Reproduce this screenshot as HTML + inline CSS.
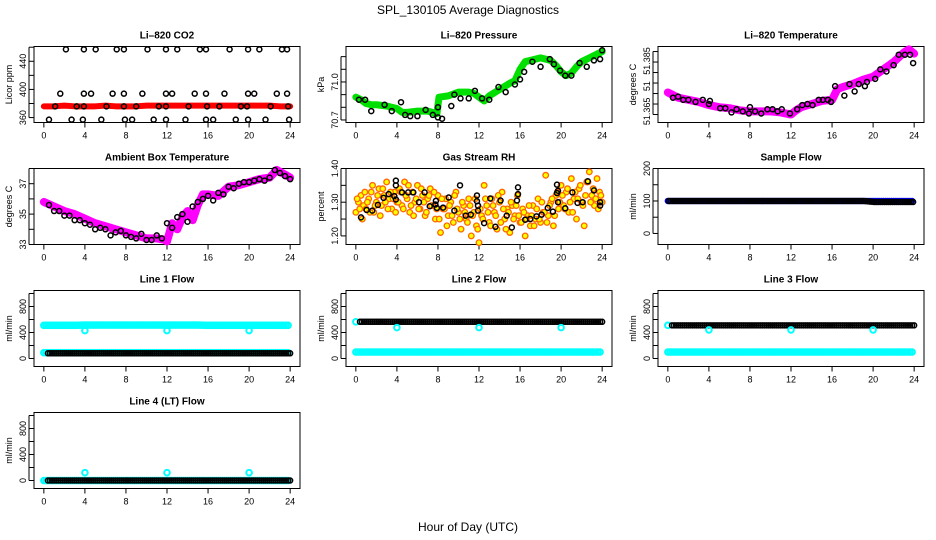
<!DOCTYPE html>
<html><head><meta charset="utf-8"><style>
body{margin:0;background:#fff;}
svg{display:block;font-family:"Liberation Sans",sans-serif;}
</style></head><body>
<svg id="fig" width="936" height="540" viewBox="0 0 936 540" xmlns="http://www.w3.org/2000/svg">
<rect width="936" height="540" fill="#fff"/>
<text x="468" y="14" font-size="12" text-anchor="middle">SPL_130105  Average Diagnostics</text>
<text x="468" y="531" font-size="12" text-anchor="middle">Hour of Day (UTC)</text>
</svg>
<script>
// ---- data ----
const co2RedHrs=[0,1,2,3,4,5,6,7,8,9,10,11,12,13,14,15,16,17,18,19,20,21,22,23,24];
const co2RedVals=[376,376,377,376,376,376,377,376,376,376,377,377,377,377,377,377,377,377,377,377,377,377,377,376,376];
const co2Hrs=[2.15,3.9,5.05,7.1,7.8,10.1,11.9,13.0,15.2,15.8,18.1,19.9,21.0,23.2,23.7,
1.6,3.9,4.6,6.7,7.8,9.6,11.9,12.5,14.7,15.8,17.6,19.9,20.5,22.7,23.7,
1.1,3.2,3.9,6.1,7.8,9.0,11.2,11.9,14.1,15.9,17.1,19.2,19.8,22.1,23.8,
0.5,2.7,3.8,5.6,7.9,8.6,10.7,11.9,13.8,15.8,16.5,18.7,19.9,21.6,23.9];
const co2Vals=[457,457,457,457,457,457,457,457,457,457,457,457,457,457,457,
394,394,394,394,394,394,394,394,394,394,394,394,394,394,394,
376,376,376,376,376,376,376,376,376,376,376,376,376,376,376,
357,357,357,357,357,357,357,357,357,357,357,357,357,357,357];

const presGreenHrs=[0,0.5,1,1.5,2,3,4,4.5,5,6,7,7.9,8.1,9,10,11,11.5,12,12.5,13,14,15,15.5,16,16.5,17,18,19,19.5,20,20.5,21,21.5,22,23,24];
const presGreenVals=[70.88,70.86,70.83,70.82,70.82,70.81,70.79,70.76,70.76,70.77,70.77,70.75,70.88,70.89,70.92,70.92,70.91,70.88,70.85,70.89,70.94,70.99,71.01,71.1,71.16,71.17,71.19,71.17,71.13,71.08,71.05,71.07,71.12,71.16,71.2,71.24];
const presHrs=[0.3,0.9,1.5,2.8,3.5,4.4,4.8,5.3,6,6.8,7.5,8,8.4,8,9.3,9.6,10.2,11,11.6,12.3,13,13.9,14.6,15.5,16,16.4,17.2,18,18.9,19.3,19.9,20.4,21,21.8,22.5,23.2,23.8,24];
const presVals=[70.86,70.86,70.77,70.82,70.77,70.84,70.74,70.73,70.73,70.78,70.74,70.72,70.71,70.8,70.81,70.9,70.87,70.87,70.93,70.87,70.86,70.96,70.92,70.98,71.02,71.08,71.16,71.12,71.18,71.14,71.09,71.05,71.05,71.15,71.12,71.17,71.18,71.25];

const tempMagHrs=[0,1,2,3,4,5,6,7,8,9,10,11,12,12.5,13,14,15,16,16.5,17,18,19,20,21,22,23,23.5,24];
const tempMagVals=[51.3705,51.368,51.367,51.366,51.3645,51.3635,51.363,51.362,51.3615,51.3615,51.3615,51.361,51.360,51.362,51.3635,51.365,51.3665,51.367,51.372,51.373,51.3745,51.3765,51.378,51.3815,51.385,51.3895,51.391,51.389];
const tempHrs=[0.5,1,1.5,2,2.7,3.4,4,4.1,5.1,5.6,6.2,6.7,7.3,7.9,8,8.5,9.1,9.7,10.2,10.7,11.1,11.9,12.6,13.1,13.6,14.1,14.7,15.1,15.6,15.9,16.3,17.2,17.7,18.2,18.6,19.2,19.4,20.2,20.7,21.3,22,22.5,23.1,23.6,23.9];
const tempVals=[51.368,51.3685,51.367,51.367,51.366,51.367,51.365,51.3665,51.363,51.363,51.361,51.3625,51.3615,51.3605,51.3635,51.3615,51.3605,51.3625,51.3625,51.3615,51.3625,51.3605,51.3625,51.3645,51.365,51.3645,51.367,51.367,51.367,51.366,51.3735,51.369,51.3745,51.371,51.3745,51.3735,51.3755,51.377,51.3815,51.3805,51.3835,51.3885,51.3885,51.3885,51.3845];

const ambMagHrs=[0,1,2,3,4,5,6,7,8,9,10,11,11.8,12,12.5,13,13.5,14,14.5,15,15.5,16,17,18,19,20,21,22,22.7,23.5,24];
const ambMagVals=[35.8,35.5,35.2,35.0,34.7,34.4,34.2,34.0,33.8,33.6,33.4,33.4,33.3,33.2,34.4,34.0,34.8,35.2,34.6,35.6,36.3,36.3,36.2,36.8,36.9,37.1,37.3,37.4,37.9,37.6,37.4];
const ambHrs=[0.5,1,1.5,2,2.5,3,3.5,4,4.5,5,5.5,6,6.5,7,7.5,8,8.5,9,9.5,10,10.5,11,11.5,12,12.5,13,13.5,14,14.5,15,15.5,16,16.5,17,17.5,18,18.5,19,19.5,20,20.5,21,21.5,22,22.5,23,23.5,24];
const ambVals=[35.6,35.2,35.2,34.9,34.9,34.6,34.6,34.4,34.3,34.0,34.1,34.0,33.6,33.8,33.9,33.6,33.5,33.4,33.7,33.3,33.3,33.6,33.4,34.4,34.1,34.8,35.0,34.5,35.5,35.8,36.0,36.2,35.9,36.4,36.3,36.8,36.7,37.0,37.1,37.1,37.2,37.3,37.2,37.4,37.9,37.7,37.5,37.3];

const rhValsA=[1.27,1.30,1.32,1.29,1.28,1.31,1.33,1.27,1.30,1.34,1.29,1.32,1.36,1.31,1.28,1.33,1.30,
1.34,1.29,1.36,1.31,1.27,1.33,1.30,1.35,1.28,1.32,1.26,1.31,1.34,1.29,1.25,1.32,
1.21,1.28,1.31,1.26,1.30,1.24,1.33,1.27,1.22,1.29,1.25,1.31,1.20,1.27,1.23,1.18,
1.26,1.35,1.29,1.24,1.31,1.27,1.22,1.30,1.33,1.25,1.28,1.21,1.29,1.26,1.32,1.24,
1.28,1.20,1.26,1.23,1.29,1.25,1.31,1.24,1.27,1.38,1.26,1.30,1.23,1.32,1.28,1.35,
1.29,1.33,1.27,1.37,1.31,1.25,1.34,1.30,1.23,1.36,1.39,1.32,1.29,1.37,1.33,1.30];
const rhValsB=[1.31,1.28,1.25,1.33,1.30,1.27,1.35,1.29,1.32,1.26,1.34,1.30,1.28,1.33,1.31,1.27,
1.30,1.33,1.28,1.32,1.35,1.29,1.26,1.31,1.28,1.34,1.30,1.27,1.32,1.29,1.33,1.28,
1.25,1.31,1.28,1.23,1.29,1.26,1.32,1.28,1.25,1.30,1.27,1.24,1.29,1.26,1.31,1.22,
1.28,1.25,1.31,1.27,1.23,1.29,1.26,1.32,1.24,1.28,1.22,1.27,1.30,1.25,1.29,1.26,
1.24,1.27,1.25,1.29,1.26,1.23,1.28,1.25,1.30,1.27,1.24,1.29,1.31,1.26,1.33,1.30,
1.32,1.28,1.34,1.30,1.27,1.33,1.31,1.35,1.29,1.32,1.36,1.30,1.34,1.31,1.28,1.32];
const rhHrs=[0.5,1.05,1.6,2.15,2.7,3.2,3.75,3.9,3.9,3.9,4.5,5.1,5.6,6.15,6.7,7.2,7.75,7.8,7.9,8.5,9.05,9.6,10.15,10.7,11.2,11.8,11.8,11.9,11.9,12.5,13.1,13.6,14.1,14.7,15.2,15.7,15.8,15.8,16.5,17.0,17.6,18.1,18.7,19.2,19.6,19.6,19.7,19.7,20.4,21.1,21.6,22.1,22.6,23.2,23.8,23.8];
const rhVals=[1.255,1.277,1.275,1.292,1.313,1.324,1.318,1.364,1.35,1.308,1.329,1.329,1.329,1.30,1.329,1.288,1.293,1.304,1.283,1.284,1.314,1.275,1.35,1.26,1.263,1.32,1.303,1.29,1.275,1.238,1.311,1.227,1.305,1.26,1.225,1.305,1.344,1.324,1.248,1.25,1.258,1.263,1.283,1.272,1.352,1.327,1.30,1.334,1.282,1.329,1.298,1.30,1.362,1.335,1.29,1.30];

// flows: one value per hour 0..24
const sampBlue=[100,100,100,100,100,100,100,100,100,100,100,100,100,100,100,100,100,100,100,100,100,100,100,100,100];
const sampBlack=[100,100,100,100,100,100,100,100,100,100,100,100,100,100,100,100,100,100,100,100,97,97,97,97,97];
const l1CyanHi=[510,510,510,510,515,515,515,515,515,515,515,515,515,515,515,515,510,510,510,510,510,510,510,510,510];
const l1CyanLo=[90,90,90,90,90,90,90,90,90,90,90,90,90,90,90,90,90,90,90,90,90,90,90,90,90];
const l1Black=[80,80,80,80,80,80,80,80,80,80,80,80,80,80,80,80,80,80,80,80,80,80,80,80,80];
const l2CyanLo=[100,100,100,100,100,100,100,100,100,100,100,100,100,100,100,100,100,100,100,100,100,100,100,100,100];
const l2Black=[565,565,565,565,565,565,565,565,565,565,565,565,565,565,565,565,565,565,565,565,565,565,565,565,565];
const l3CyanLo=[100,100,100,100,100,100,100,100,100,100,100,100,100,100,100,100,100,100,100,100,100,100,100,100,100];
const l3Black=[510,510,510,510,510,510,510,510,510,510,510,510,510,510,510,510,510,510,510,510,510,510,510,510,510];
const l4Cyan=[0,0,0,0,0,0,0,0,0,0,0,0,0,0,0,0,0,0,0,0,0,0,0,0,0];
const l4Black=[0,0,0,0,0,0,0,0,0,0,0,0,0,0,0,0,0,0,0,0,0,0,0,0,0];
const dipHrs=[4,12,20];
const l1Dips=[430,430,430];
const l2Dips=[475,475,475];
const l3Dips=[440,440,440];
const l4Dips=[120,120,120];
const startHrs=[0];
const l2Start=[565];
const l3Start=[510];

// ---- drawing ----
const NS="http://www.w3.org/2000/svg";
const svg=document.getElementById('fig');
function mk(tag,attrs,parent){const e=document.createElementNS(NS,tag);for(const k in attrs)e.setAttribute(k,attrs[k]);(parent||svg).appendChild(e);return e;}

function panel(name,col,row,title,ylab,lo,hi,yt,ylabels){
  const L=34+312*col, T=46.5+122*row, W=266, H=76;
  const g=mk('g',{});
  
  
  const x=h=>L+(h+0.96)/25.92*W;
  const y=v=>T+H-(v-lo)/(hi-lo)*H;
  const box=mk('rect',{x:L,y:T,width:W,height:H,fill:'none',stroke:'#000','stroke-width':1},g);
  
  
  const t=mk('text',{x:L+W/2,y:T-8,'font-size':10,'font-weight':'bold','text-anchor':'middle'},g);
  t.textContent=title;
  
  
  const xa=mk('g',{},g);
  
  
  for(let h=0;h<=24;h+=4){
    mk('line',{x1:x(h),x2:x(h),y1:T+H,y2:T+H+5,stroke:'#000'},xa);
    const tx=mk('text',{x:x(h),y:T+H+16,'font-size':9,'text-anchor':'middle'},xa);
    tx.textContent=h;
  }
  const ya=mk('g',{},g);
  
  
  mk('line',{x1:L-5,x2:L-5,y1:y(yt[0]),y2:y(yt[yt.length-1]),stroke:'#000'},ya);
  yt.forEach(v=>mk('line',{x1:L-5,x2:L,y1:y(v),y2:y(v),stroke:'#000'},ya));
  ylabels.forEach(([v,s])=>{
    const tx=mk('text',{x:0,y:0,'font-size':9,'text-anchor':'middle',transform:`translate(${L-8},${y(v)}) rotate(-90)`},ya);
    tx.textContent=s;
  });
  const yt2=mk('text',{x:0,y:0,'font-size':9,'text-anchor':'middle',transform:`translate(${L-22},${T+H/2}) rotate(-90)`},g);
  yt2.textContent=ylab;
  
  
  return {g,x,y};
}
function band(p,hrs,vals,color,w,name){
  const pts=hrs.map((h,i)=>p.x(h)+','+p.y(vals[i])).join(' ');
  const e=mk('polyline',{points:pts,fill:'none',stroke:color,'stroke-width':w,'stroke-linejoin':'round','stroke-linecap':'round'},p.g);
  
  
}
function pts(p,hrs,vals,stroke,fill,r,sw,name){
  const g=mk('g',{},p.g);
  
  
  hrs.forEach((h,i)=>mk('circle',{cx:p.x(h),cy:p.y(vals[i]),r:r,fill:fill,stroke:stroke,'stroke-width':sw},g));
}
function hourly(p,vals,stroke,r,sw,name,startOff){
  const hrs=[],vv=[];
  for(let i=0;i<24;i++)for(let k=0;k<5;k++){const h=i+k*0.2+(startOff||0);if(h<=24){hrs.push(h);vv.push(vals[i]+(vals[i+1]-vals[i])*k*0.2);}}
  pts(p,hrs,vv,stroke,'none',r,sw,name);
}

// CO2
let p=panel('co2',0,0,'Li\u2013820 CO2','Licor ppm',353,461,[360,380,400,420,440,460],[[360,'360'],[400,'400'],[440,'440']]);
band(p,co2RedHrs,co2RedVals,'#f00',6,'co2-red-series');
pts(p,co2Hrs,co2Vals,'#000','none',2.5,1.5,'co2-black-points');

// Pressure
p=panel('pressure',1,0,'Li\u2013820 Pressure','kPa',70.68,71.28,[70.7,70.8,70.9,71.0,71.1,71.2],[[70.7,'70.7'],[71.0,'71.0']]);
band(p,presGreenHrs,presGreenVals,'#00e000',7,'pressure-green-series');
pts(p,presHrs,presVals,'#000','none',2.5,1.5,'pressure-black-points');

// Li-820 temperature
p=panel('licor-temp',2,0,'Li\u2013820 Temperature','degrees C',51.3562,51.3924,[51.360,51.365,51.370,51.375,51.380,51.385,51.390],[[51.3615,'51.365'],[51.3735,'51'],[51.3855,'51.385']]);
band(p,tempMagHrs,tempMagVals,'#f0f',8,'licor-temp-magenta-series');
pts(p,tempHrs,tempVals,'#000','none',2.5,1.5,'licor-temp-black-points');

// Ambient
p=panel('ambient',0,1,'Ambient Box Temperature','degrees C',33,38,[33,34,35,36,37,38],[[33,'33'],[35,'35'],[37,'37']]);
band(p,ambMagHrs,ambMagVals,'#f0f',8,'ambient-magenta-series');
pts(p,ambHrs,ambVals,'#000','none',2.5,1.5,'ambient-black-points');

// RH
p=panel('rh',1,1,'Gas Stream RH','percent',1.1745,1.40,[1.20,1.25,1.30,1.35,1.40],[[1.20,'1.20'],[1.30,'1.30'],[1.40,'1.40']]);
pts(p,rhValsA.map((v,i)=>i*0.25),rhValsA,'#f60','#ff0',2.8,1.3,'rh-orange-points-a');
pts(p,rhValsB.map((v,i)=>i*0.25+0.125),rhValsB,'#f60','#ff0',2.8,1.3,'rh-orange-points-b');
pts(p,rhHrs,rhVals,'#000','none',2.5,1.5,'rh-black-points');

// Sample flow
p=panel('sample-flow',2,1,'Sample Flow','ml/min',-34,200,[0,50,100,150,200],[[0,'0'],[100,'100'],[200,'200']]);
hourly(p,sampBlue,'#00f',2.5,1.5,'sample-flow-blue-points');
hourly(p,sampBlack,'#000',2.5,1.5,'sample-flow-black-points',0.1);

const fT=[0,200,400,600,800,1000], fL=[[0,'0'],[400,'400'],[800,'800']];
p=panel('line1',0,2,'Line 1 Flow','ml/min',-123,1046,fT,fL);
hourly(p,l1CyanHi,'#0ff',2.8,2,'line1-cyan-high');
hourly(p,l1CyanLo,'#0ff',2.8,2,'line1-cyan-low');
hourly(p,l1Black,'#000',2.5,1.5,'line1-black',0.4);
pts(p,dipHrs,l1Dips,'#0ff','none',2.8,2,'line1-cyan-dips');

p=panel('line2',1,2,'Line 2 Flow','ml/min',-123,1046,fT,fL);
hourly(p,l2CyanLo,'#0ff',2.8,2,'line2-cyan-low');
pts(p,startHrs,l2Start,'#0ff','none',2.8,2,'line2-cyan-start');
hourly(p,l2Black,'#000',2.5,1.5,'line2-black',0.4);
pts(p,dipHrs,l2Dips,'#0ff','none',2.8,2,'line2-cyan-dips');

p=panel('line3',2,2,'Line 3 Flow','ml/min',-123,1046,fT,fL);
hourly(p,l3CyanLo,'#0ff',2.8,2,'line3-cyan-low');
pts(p,startHrs,l3Start,'#0ff','none',2.8,2,'line3-cyan-start');
hourly(p,l3Black,'#000',2.5,1.5,'line3-black',0.4);
pts(p,dipHrs,l3Dips,'#0ff','none',2.8,2,'line3-cyan-dips');

p=panel('line4',0,3,'Line 4 (LT) Flow','ml/min',-123,1046,fT,fL);
hourly(p,l4Cyan,'#0ff',2.8,2,'line4-cyan');
hourly(p,l4Black,'#000',2.5,1.5,'line4-black',0.4);
pts(p,dipHrs,l4Dips,'#0ff','none',2.8,2,'line4-cyan-dips');
</script>
</body></html>
